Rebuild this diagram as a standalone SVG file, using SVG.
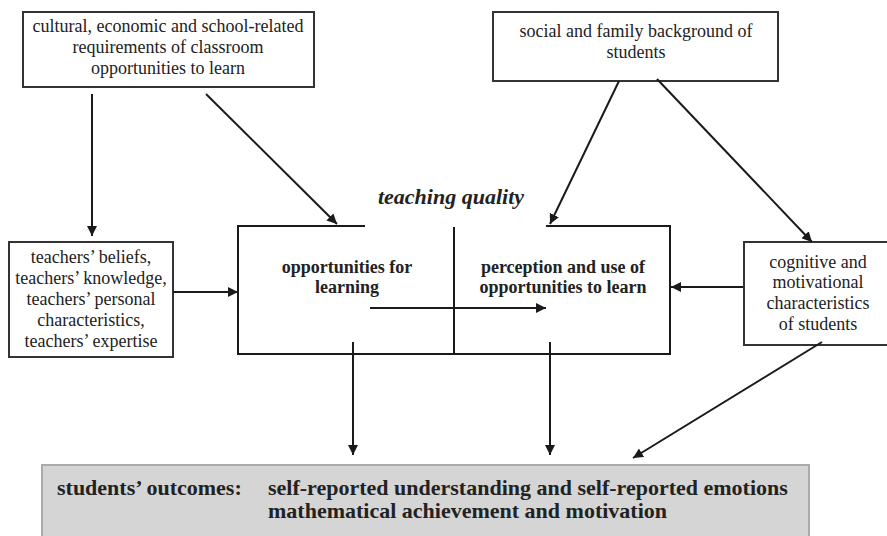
<svg xmlns="http://www.w3.org/2000/svg" width="887" height="536" viewBox="0 0 887 536">
<defs>
<marker id="ah" viewBox="0 0 10 10" refX="10" refY="5" markerWidth="10" markerHeight="10" markerUnits="userSpaceOnUse" orient="auto">
<path d="M0,0 L10,5 L0,10 z" fill="#1a1a1a"/>
</marker>
<style>
text{font-family:'Liberation Serif','Times New Roman',serif;fill:#222}
.t{font-size:18px;text-anchor:middle}
.b{font-size:18px;font-weight:bold;text-anchor:middle}
.o{font-size:22px;font-weight:bold}
.box{fill:#fff;stroke:#333;stroke-width:2}
.c{stroke:#1a1a1a;stroke-width:2;fill:none}
.a{stroke:#1a1a1a;stroke-width:2;fill:none;marker-end:url(#ah)}
</style>
</defs>
<rect width="887" height="536" fill="#fff"/>
<g id="context">
<rect class="box" x="23" y="12" width="291" height="75"/>
<text class="t" x="168" y="32">cultural, economic and school-related</text>
<text class="t" x="168" y="53">requirements of classroom</text>
<text class="t" x="168" y="74">opportunities to learn</text>
</g>
<g id="background">
<rect class="box" x="493" y="12" width="285" height="69"/>
<text class="t" x="636" y="37">social and family background of</text>
<text class="t" x="636" y="58">students</text>
</g>
<g id="teachers">
<rect class="box" x="9" y="242" width="164" height="115"/>
<text class="t" x="91" y="263">teachers’ beliefs,</text>
<text class="t" x="91" y="284">teachers’ knowledge,</text>
<text class="t" x="91" y="305">teachers’ personal</text>
<text class="t" x="91" y="326">characteristics,</text>
<text class="t" x="91" y="347">teachers’ expertise</text>
</g>
<g id="teaching-quality">
<text x="451" y="204" text-anchor="middle" font-size="22" font-weight="bold" font-style="italic">teaching quality</text>
<path class="c" d="M365,226 H238 V354 H670 V226 H546"/>
<line class="c" x1="454" y1="227" x2="454" y2="354"/>
</g>
<g id="opportunities">
<text class="b" x="347" y="273">opportunities for</text>
<text class="b" x="347" y="293">learning</text>
</g>
<g id="perception">
<text class="b" x="563" y="273">perception and use of</text>
<text class="b" x="563" y="293">opportunities to learn</text>
</g>
<g id="characteristics">
<rect class="box" x="744" y="242" width="150" height="103"/>
<text class="t" x="818" y="268">cognitive and</text>
<text class="t" x="818" y="288">motivational</text>
<text class="t" x="818" y="309">characteristics</text>
<text class="t" x="818" y="330">of students</text>
</g>
<g id="outcomes">
<rect x="42" y="465" width="767" height="80" fill="#d5d5d5" stroke="#aaa" stroke-width="2"/>
<text class="o" x="57" y="495">students’ outcomes:</text>
<text class="o" x="268" y="495">self-reported understanding and self-reported emotions</text>
<text class="o" x="268" y="518">mathematical achievement and motivation</text>
</g>
<g id="connectors">
<line class="a" x1="92" y1="94" x2="92" y2="236"/>
<line class="a" x1="206" y1="94" x2="337" y2="224"/>
<line class="a" x1="619" y1="81" x2="550" y2="224"/>
<line class="a" x1="657" y1="79" x2="812" y2="242"/>
<line class="a" x1="173" y1="292" x2="238" y2="292"/>
<line class="a" x1="370" y1="308" x2="546" y2="308"/>
<line class="a" x1="743" y1="287" x2="671" y2="287"/>
<line class="a" x1="353" y1="342" x2="353" y2="455"/>
<line class="a" x1="550" y1="342" x2="550" y2="455"/>
<line class="a" x1="822" y1="342" x2="633" y2="458"/>
</g>
</svg>
